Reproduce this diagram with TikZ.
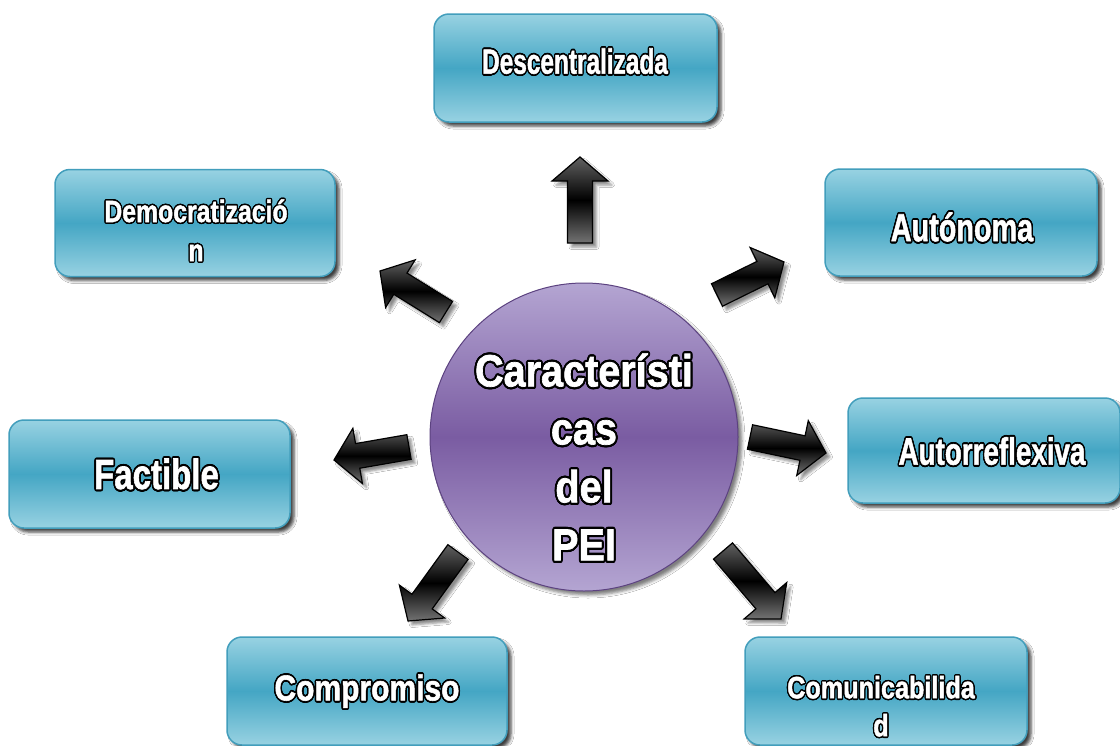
\documentclass[tikz,border=0pt]{standalone}
\usepackage{fontspec}
\setmainfont{Liberation Sans}
\usepackage{graphicx}
\usepackage{contour}
\usetikzlibrary{calc,shadows.blur}
\newfontfamily\wafont[FakeBold=1.6]{Liberation Sans Bold}
\contourlength{1.0pt}
\definecolor{boxlight}{RGB}{152,210,226}
\definecolor{boxmid}{RGB}{68,166,196}
\definecolor{boxedge}{RGB}{66,158,188}
\definecolor{circlight}{RGB}{180,165,210}
\definecolor{circmid}{RGB}{122,92,162}
\definecolor{circedge}{RGB}{92,66,128}
\newcommand\wt[3]{\scalebox{#1}[#2]{\contour{black}{#3}}}
\newcommand\blockarrow[2]{%
  \coordinate (#1n) at ($(#2)!24pt!(#1)$);
  \draw[blockar] ($(#1)!12.5pt!90:(#2)$) -- ($(#1n)!12.5pt!-90:(#1)$) --
    ($(#1n)!28pt!-90:(#1)$) -- (#2) -- ($(#1n)!28pt!90:(#1)$) --
    ($(#1n)!12.5pt!90:(#1)$) -- ($(#1)!12.5pt!-90:(#2)$) -- cycle;}
\begin{document}
\begin{tikzpicture}[x=1pt,y=-1pt,
  box/.style={draw=boxedge,line width=1.5pt,rounded corners=15pt,
    minimum width=280pt,minimum height=107pt,inner sep=0pt,
    top color=boxlight,bottom color=boxlight,middle color=boxmid,
    blur shadow={shadow xshift=4pt,shadow yshift=-4pt,shadow opacity=75,shadow blur radius=3pt}},
  wtxt/.style={text=white,font=\wafont\fontsize{20pt}{24pt}\selectfont,
    inner sep=0pt,align=center},
  blockar/.style={draw=black,line width=1.2pt,line join=miter,
    top color=black!62,bottom color=black!55,middle color=black,
    blur shadow={shadow xshift=4pt,shadow yshift=-4pt,shadow opacity=45,shadow blur radius=2.5pt}}]
\useasboundingbox (0,0) rectangle (1120,745);
\fill[white] (0,0) rectangle (1120,745);

% boxes
\node[box,minimum width=283pt,minimum height=108pt] (desc) at (575.5,68) {};
\node[box] (demo) at (195,223) {};
\node[box,minimum width=272pt] (auto) at (961,222.5) {};
\node[box,minimum width=281pt,minimum height=108pt] (fact) at (149.5,474) {};
\node[box,minimum width=272pt,minimum height=105pt] (autor) at (984,450.5) {};
\node[box,minimum height=108pt] (comp) at (367,691) {};
\node[box,minimum width=282pt,minimum height=108pt] (comu) at (886,691) {};

% centre
\node[circle,minimum size=308pt,draw=circedge,line width=1pt,
  top color=circlight,bottom color=circlight,middle color=circmid,
  blur shadow={shadow xshift=4pt,shadow yshift=-4pt,shadow opacity=50,shadow blur radius=3pt}]
  (c) at (584,437) {};

% texts
\node[wtxt] (descT) at (575,62) {\wt{1.22}{1.75}{Descentralizada}};
\node[wtxt,font=\wafont\fontsize{20pt}{39pt}\selectfont] (demoT) at (196,231)
  {\wt{1.24}{1.54}{Democratizació}\\\wt{1.24}{1.54}{n}};
\node[wtxt] (autoT) at (962,228) {\wt{1.44}{1.95}{Autónoma}};
\node[wtxt] (autorT) at (992,452) {\wt{1.39}{1.9}{Autorreflexiva}};
\node[wtxt] (factT) at (156.5,475) {\wt{1.65}{2.1}{Factible}};
\node[wtxt] (compT) at (367,692) {\wt{1.5}{1.8}{Compromiso}};
\node[wtxt,font=\wafont\fontsize{20pt}{38pt}\selectfont] (comuT) at (881,707)
  {\wt{1.26}{1.54}{Comunicabilida}\\\wt{1.26}{1.54}{d}};
\node[wtxt,font=\wafont\fontsize{20pt}{58pt}\selectfont] (cT) at (584,458)
  {\wt{1.98}{2.25}{Característi}\\\wt{1.98}{2.25}{cas}\\\wt{1.98}{2.25}{del}\\\wt{1.98}{2.25}{PEI}};

% arrows
\coordinate (a1) at (580,243); \coordinate (b1) at (580,157);
\coordinate (a2) at (446,312); \coordinate (b2) at (380,271);
\coordinate (a3) at (717,295); \coordinate (b3) at (784,262);
\coordinate (a4) at (409,447); \coordinate (b4) at (334,460);
\coordinate (a5) at (750,437); \coordinate (b5) at (826,453);
\coordinate (a6) at (458,552); \coordinate (b6) at (408,621);
\coordinate (a7) at (723,551); \coordinate (b7) at (781,619);
\blockarrow{a1}{b1}
\blockarrow{a2}{b2}
\blockarrow{a3}{b3}
\blockarrow{a4}{b4}
\blockarrow{a5}{b5}
\blockarrow{a6}{b6}
\blockarrow{a7}{b7}
\end{tikzpicture}
\end{document}
